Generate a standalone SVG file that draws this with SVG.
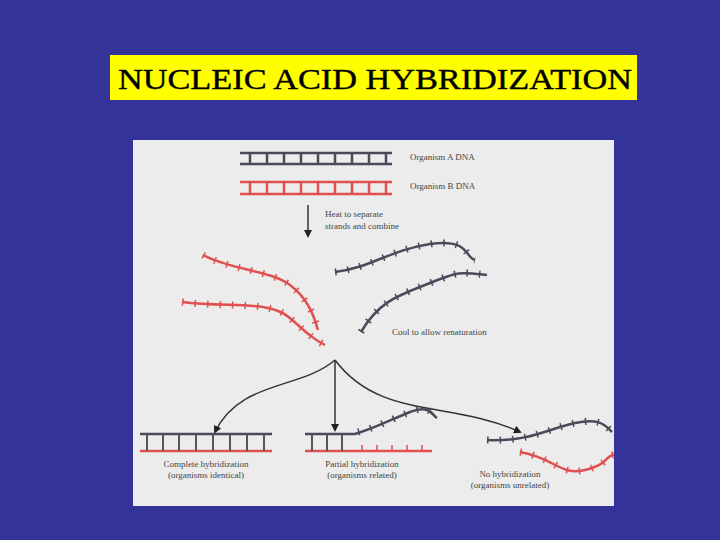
<svg xmlns="http://www.w3.org/2000/svg" width="720" height="540" viewBox="0 0 720 540">
<style>
.g{stroke:#4a4a5a;stroke-width:2.5;fill:none}
.r{stroke:#e05050;stroke-width:2.5;fill:none}
.tg{stroke:#4a4a5a;stroke-width:7;stroke-dasharray:1.5 11;fill:none}
.tr{stroke:#e05050;stroke-width:7;stroke-dasharray:1.5 11;fill:none}
.c{stroke:#333;stroke-width:1.5;fill:none}
.t{font-family:"Liberation Serif",serif;font-size:9px;fill:#444}
</style>
<defs><marker id="a" markerWidth="8" markerHeight="8" refX="6" refY="4" orient="auto" markerUnits="userSpaceOnUse"><path d="M0,0L8,4L0,8z" fill="#222"/></marker></defs>
<rect width="720" height="540" fill="#333399"/>
<g id="title"><rect x="110" y="55" width="527" height="45" fill="#ffff00"/>
<text x="118" y="89" textLength="514" lengthAdjust="spacingAndGlyphs" font-family="Liberation Serif,serif" font-size="30" stroke="#000" stroke-width="0.4" fill="#000">NUCLEIC ACID HYBRIDIZATION</text></g>
<rect x="133" y="140" width="481" height="366" fill="#ececec"/>
<g id="dnaA"><path class="g" d="M240,153H392M240,164H392M250,153V164M267,153V164M284,153V164M301,153V164M318,153V164M335,153V164M352,153V164M369,153V164M386,153V164" stroke-width="2"/>
<text class="t" x="410" y="160">Organism A DNA</text></g>
<g id="dnaB"><path class="r" d="M240,182H392M240,194H392M250,182V194M267,182V194M284,182V194M301,182V194M318,182V194M335,182V194M352,182V194M369,182V194M386,182V194" stroke-width="2"/>
<text class="t" x="410" y="189">Organism B DNA</text></g>
<g id="heat"><text class="t" x="325" y="217">Heat to separate</text><text class="t" x="325" y="229">strands and combine</text></g>
<g id="strands">
<path class="r" d="M203,255C230,270 270,270 290,285S315,320 318,330"/>
<path class="tr" d="M203,255C230,270 270,270 290,285S315,320 318,330"/>
<path class="r" d="M182,302C230,308 270,300 290,318S315,340 325,345"/>
<path class="tr" d="M182,302C230,308 270,300 290,318S315,340 325,345"/>
<path class="g" d="M335,272C370,268 390,250 430,244S465,258 475,260"/>
<path class="tg" d="M335,272C370,268 390,250 430,244S465,258 475,260"/>
<path class="g" d="M361,332C380,300 400,295 430,283S460,272 487,275"/>
<path class="tg" d="M361,332C380,300 400,295 430,283S460,272 487,275"/>
<text class="t" x="392" y="335">Cool to allow renaturation</text>
</g>
<g id="connectors">
<path class="c" d="M308,205V236" marker-end="url(#a)"/>
<path class="c" d="M335,360C300,390 240,380 215,432" marker-end="url(#a)"/>
<path class="c" d="M335,360V430" marker-end="url(#a)"/>
<path class="c" d="M335,360C380,420 450,400 520,432" marker-end="url(#a)"/>
</g>
<g id="complete"><path class="g" d="M140,434H272" stroke-width="2"/><path class="r" d="M140,451H272" stroke-width="2"/>
<path d="M147,434V451M163,434V451M179,434V451M196,434V451M213,434V451M230,434V451M247,434V451M264,434V451" stroke="#555" stroke-width="2"/>
<text class="t" x="206" y="467" text-anchor="middle">Complete hybridization</text><text class="t" x="206" y="478" text-anchor="middle">(organisms identical)</text></g>
<g id="partial"><path class="g" d="M305,434H355C375,428 390,420 410,412S432,415 437,418" stroke-width="2"/>
<path class="tg" d="M358,432C375,428 390,420 410,412S432,415 437,418" stroke-width="6"/>
<path class="r" d="M305,451H432" stroke-width="2"/>
<path d="M312,434V451M327,434V451M342,434V451" stroke="#555" stroke-width="2"/>
<path d="M362,445V451M377,445V451M392,445V451M407,445V451M422,445V451" stroke="#e05050" stroke-width="1.5"/>
<text class="t" x="362" y="467" text-anchor="middle">Partial hybridization</text><text class="t" x="362" y="478" text-anchor="middle">(organisms related)</text></g>
<g id="none"><path class="g" d="M487,440C530,442 550,428 575,423S605,425 612,432" stroke-width="2"/>
<path class="tg" d="M487,440C530,442 550,428 575,423S605,425 612,432" stroke-width="6"/>
<path class="r" d="M520,452C555,458 560,476 585,470S605,455 614,455" stroke-width="2"/>
<path class="tr" d="M520,452C555,458 560,476 585,470S605,455 614,455" stroke-width="6"/>
<text class="t" x="510" y="477" text-anchor="middle">No hybridization</text><text class="t" x="510" y="488" text-anchor="middle">(organisms unrelated)</text></g>
</svg>
